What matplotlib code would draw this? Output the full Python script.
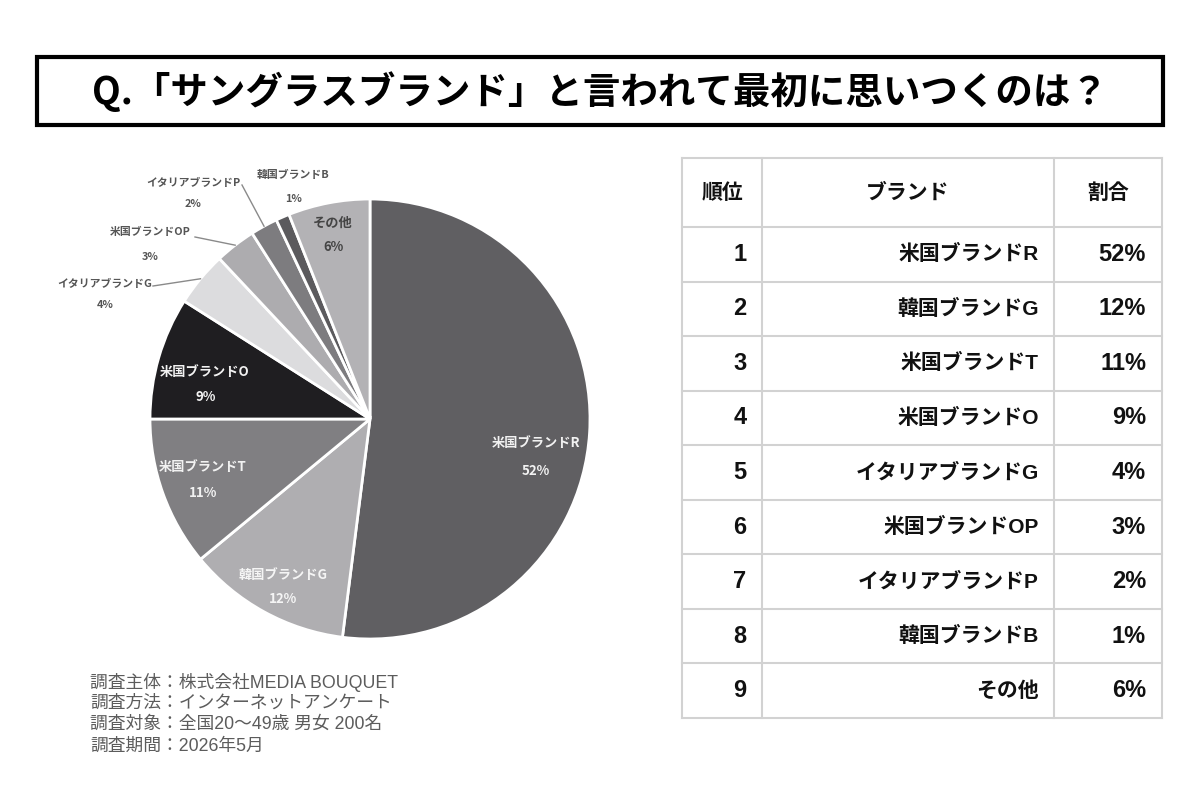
import matplotlib
matplotlib.use('Agg')
import matplotlib.pyplot as plt
from matplotlib.patches import Rectangle
import numpy as np

plt.rcParams['font.family'] = ['Noto Sans CJK JP', 'DejaVu Sans']
MIX = ['Liberation Sans', 'Noto Sans CJK JP', 'DejaVu Sans']

# ---------------- data ----------------
title = "Q.「サングラスブランド」と言われて最初に思いつくのは？"
brands = ["米国ブランドR", "韓国ブランドG", "米国ブランドT", "米国ブランドO",
          "イタリアブランドG", "米国ブランドOP", "イタリアブランドP", "韓国ブランドB", "その他"]
shares = [52, 12, 11, 9, 4, 3, 2, 1, 6]
ranks = [1, 2, 3, 4, 5, 6, 7, 8, 9]
table_headers = ["順位", "ブランド", "割合"]
notes = ["調査主体：株式会社MEDIA BOUQUET",
         "調査方法：インターネットアンケート",
         "調査対象：全国20〜49歳 男女 200名",
         "調査期間：2026年5月"]

# ---------------- style ----------------
colors = ["#605f62", "#afaeb1", "#807f82", "#1f1e21", "#dcdcde",
          "#adacaf", "#7d7c7f", "#5b5a5d", "#b3b2b5"]
# label anchor (pixels): name pos, pct pos, colour, fontsize, leader end (or None)
label_style = [
    ((536, 443), (536, 471), "#f2f2f2", 9.5, None),
    ((283, 575), (283, 599), "#f5f5f5", 9.5, None),
    ((203, 467), (203, 493), "#f2f2f2", 9.5, None),
    ((205, 372), (206, 397), "#f2f2f2", 9.5, None),
    ((105, 284), (105, 305), "#555555", 7.8, (153, 286)),
    ((150, 232), (150, 257), "#555555", 7.8, (195, 237)),
    ((193, 183), (193, 204), "#555555", 7.8, (242, 185)),
    ((293, 175), (294, 199), "#555555", 7.8, None),
    ((333, 223), (333, 247), "#444444", 9.5, None),
]
CX, CY, R = 370, 419, 220

fig = plt.figure(figsize=(12, 8), dpi=100)
fig.patch.set_facecolor("white")

bg = fig.add_axes([0, 0, 1, 1])
bg.set_xlim(0, 1200)
bg.set_ylim(800, 0)
bg.axis('off')

# title box
bg.add_patch(Rectangle((37, 57), 1126, 68, fill=False, edgecolor="black", linewidth=3))
bg.text(600, 92, title, ha='center', va='center', fontsize=27, fontweight='bold', color='black')

# ---------------- pie ----------------
ax = fig.add_axes([(CX - R) / 1200, (800 - (CY + R)) / 800, 2 * R / 1200, 2 * R / 800])
wedges, _ = ax.pie(shares, colors=colors, startangle=90, counterclock=False,
                   wedgeprops=dict(edgecolor='white', linewidth=2))
ax.set_xlim(-1, 1)
ax.set_ylim(-1, 1)
ax.set_aspect('equal')
ax.axis('off')


def pc(x, y):
    return ((x - CX) / R, (CY - y) / R)


for w, name, val, st in zip(wedges, brands, shares, label_style):
    npos, ppos, col, fs, lead = st
    ax.text(*pc(*npos), name, ha='center', va='center', fontsize=fs, color=col, fontweight='bold')
    ax.text(*pc(*ppos), f"{val}%", ha='center', va='center', fontsize=fs, color=col, fontweight='bold')
    if lead is not None:
        mid = np.deg2rad((w.theta1 + w.theta2) / 2)
        ex, ey = np.cos(mid), np.sin(mid)
        lx, ly = pc(*lead)
        ax.plot([lx, ex], [ly, ey], color="#8a8a8a", lw=1.0, clip_on=False)

# ---------------- table ----------------
col_x = [682, 762, 1054, 1162]
top, head_bot, bottom = 158, 227, 718
n = len(ranks)
row_h = (bottom - head_bot) / n
grid_col = "#d2d2d2"
for x in col_x:
    bg.plot([x, x], [top, bottom], color=grid_col, lw=1.5)
row_lines = [top, head_bot] + [head_bot + row_h * (i + 1) for i in range(n)]
for y in row_lines:
    bg.plot([col_x[0], col_x[-1]], [y, y], color=grid_col, lw=1.5)

hy = (top + head_bot) / 2
for j, h in enumerate(table_headers):
    bg.text((col_x[j] + col_x[j + 1]) / 2, hy, h, ha='center', va='center',
            fontsize=15, fontweight='bold', color='#111111')

for i, (rk, name, val) in enumerate(zip(ranks, brands, shares)):
    y = head_bot + row_h * (i + 0.5)
    bg.text(740, y, str(rk), ha='center', va='center', fontsize=17, fontweight='bold',
            color='#111111', family=MIX)
    bg.text(1039, y, name, ha='right', va='center', fontsize=15, fontweight='bold',
            color='#111111', family=MIX)
    bg.text(1146, y, f"{val}%", ha='right', va='center', fontsize=17, fontweight='bold',
            color='#111111', family=MIX)

# ---------------- notes ----------------
for i, t in enumerate(notes):
    bg.text(90, 682 + 21.3 * i, t, ha='left', va='center', fontsize=12.8, color='#5c5c5c',
            family=MIX)

fig.savefig("out.png", dpi=100, facecolor="white")
